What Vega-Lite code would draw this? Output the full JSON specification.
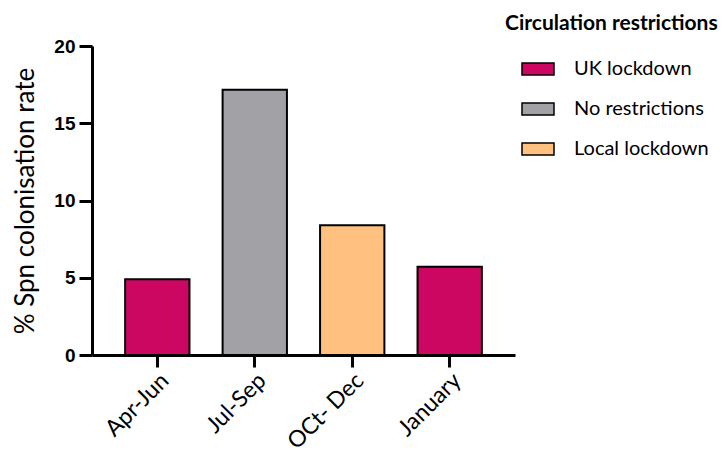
{
  "$schema": "https://vega.github.io/schema/vega-lite/v6.json",
  "width": 423,
  "height": 309,
  "autosize": {"type": "none"},
  "padding": {"left": 92, "top": 46, "right": 208, "bottom": 102},
  "background": "white",
  "data": {
    "values": [
      {"period": "Apr-Jun", "rate": 4.9, "restriction": "UK lockdown"},
      {"period": "Jul-Sep", "rate": 17.17, "restriction": "No restrictions"},
      {"period": "OCt- Dec", "rate": 8.4, "restriction": "Local lockdown"},
      {"period": "January", "rate": 5.71, "restriction": "UK lockdown"}
    ]
  },
  "mark": {"type": "bar", "stroke": "black", "strokeWidth": 2},
  "encoding": {
    "x": {
      "field": "period",
      "type": "nominal",
      "sort": null,
      "scale": {"paddingInner": 0.34, "paddingOuter": 0.34},
      "axis": {
        "title": null,
        "labelAngle": -45,
        "labelFont": "Lato",
        "labelFontSize": 23,
        "labelColor": "black",
        "labelPadding": 2,
        "tickSize": 12,
        "tickWidth": 3,
        "tickColor": "black",
        "domainWidth": 3,
        "domainColor": "black"
      }
    },
    "y": {
      "field": "rate",
      "type": "quantitative",
      "scale": {"domain": [0, 20], "nice": false},
      "axis": {
        "values": [0, 5, 10, 15, 20],
        "title": "% Spn colonisation rate",
        "titleFont": "Lato",
        "titleFontSize": 26,
        "titleFontWeight": "normal",
        "titleColor": "black",
        "titlePadding": 15,
        "labelFont": "Liberation Sans",
        "labelFontWeight": "bold",
        "labelFontSize": 19,
        "labelColor": "black",
        "labelPadding": 4,
        "grid": false,
        "tickSize": 13,
        "tickWidth": 3,
        "tickColor": "black",
        "domainWidth": 3,
        "domainColor": "black"
      }
    },
    "fill": {
      "field": "restriction",
      "type": "nominal",
      "scale": {
        "domain": ["UK lockdown", "No restrictions", "Local lockdown"],
        "range": ["#CC0762", "#A2A1A6", "#FFC080"]
      },
      "legend": {
        "orient": "none",
        "legendX": 413,
        "legendY": -33,
        "padding": 0,
        "title": "Circulation restrictions",
        "titleFont": "Lato",
        "titleFontWeight": "bold",
        "titleFontSize": 21,
        "titleLimit": 400,
        "titleColor": "black",
        "titlePadding": 18,
        "labelFont": "Lato",
        "labelFontSize": 20,
        "labelColor": "black",
        "labelOffset": 19,
        "symbolType": "M-1,-0.375H1V0.375H-1Z",
        "symbolSize": 1024,
        "symbolStrokeColor": "black",
        "symbolStrokeWidth": 1.5,
        "symbolOpacity": 1,
        "symbolOffset": 16,
        "rowPadding": 13
      }
    }
  },
  "config": {"view": {"stroke": null}}
}
